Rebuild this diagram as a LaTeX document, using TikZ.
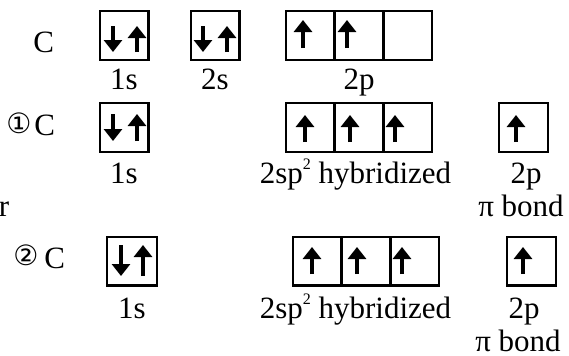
\documentclass[tikz,border=0pt]{standalone}
\usepackage{fontspec}
\setmainfont{Liberation Serif}
\newfontfamily\circfont{DejaVu Sans}
\usetikzlibrary{arrows.meta}

\begin{document}
\begin{tikzpicture}[x=0.5pt, y=-0.5pt,
    % Orbital box (one cell)
    orb box/.style={draw, line width=1.2pt, minimum width=24.3pt, minimum height=24.3pt, inner sep=0pt},
    % Heavy electron arrow
    spin/.style={line width=2pt, -{Triangle[width=9pt, length=6pt]}},
    % Labels under the boxes
    orb label/.style={font=\fontsize{15.5}{17}\selectfont, anchor=base, inner sep=0pt},
    % Atom names on the left
    atom label/.style={font=\fontsize{15.5}{17}\selectfont, anchor=base west, inner sep=0pt},
    circ label/.style={font=\circfont\fontsize{14}{15}\selectfont, anchor=base west, inner sep=0pt}
  ]
  \useasboundingbox (0,0) rectangle (569,355);

  % --- Row 1: ground state ---
  \node[atom label] (c0) at (33,52) {C};
  \node[orb box] (g1s) at (124,35.5) {};
  \node[orb box] (g2s) at (215,35.5) {};
  \node[orb box] (g2pa) at (310.3,35.5) {};
  \node[orb box] (g2pb) at (359,35.5) {};
  \node[orb box] (g2pc) at (407.7,35.5) {};
  \draw[spin] (113,26) -- (113,52);
  \draw[spin] (137,52) -- (137,26);
  \draw[spin] (203,26) -- (203,52);
  \draw[spin] (227,52) -- (227,26);
  \draw[spin] (303,48) -- (303,20);
  \draw[spin] (347,48) -- (347,20);
  \node[orb label] (l1s) at (124,89) {1s};
  \node[orb label] (l2s) at (215,89) {2s};
  \node[orb label] (l2p) at (359,89) {2p};

  % --- Row 2: first carbon ---
  \node[circ label] (n1) at (6,133) {①};
  \node[atom label] (c1) at (34,135) {C};
  \node[orb box] (a1s) at (124,127.5) {};
  \node[orb box] (ahya) at (310.3,127.5) {};
  \node[orb box] (ahyb) at (359,127.5) {};
  \node[orb box] (ahyc) at (407.7,127.5) {};
  \node[orb box] (a2p) at (523.5,127.5) {};
  \draw[spin] (113,114) -- (113,141);
  \draw[spin] (137,141) -- (137,114);
  \draw[spin] (305,142) -- (305,115);
  \draw[spin] (350,142) -- (350,115);
  \draw[spin] (395,142) -- (395,115);
  \draw[spin] (516,142) -- (516,115);
  \node[orb label] (m1s) at (124,183) {1s};
  \node[orb label] (mhy) at (355.5,183) {2sp\raisebox{7pt}{\fontsize{8}{8}\selectfont 2} hybridized};
  \node[orb label] (m2p) at (526,183) {2p};
  \node[orb label] (mpi) at (521,216) {π bond};
  \node[atom label] (orr) at (-1.5,216) {r};

  % --- Row 3: second carbon ---
  \node[circ label] (n2) at (13,265) {②};
  \node[atom label] (c2) at (44,268) {C};
  \node[orb box, minimum width=25pt] (b1s) at (132,261) {};
  \node[orb box] (bhya) at (317.3,261) {};
  \node[orb box] (bhyb) at (366,261) {};
  \node[orb box] (bhyc) at (414.7,261) {};
  \node[orb box] (b2p) at (531.5,261) {};
  \draw[spin] (121,245) -- (121,276);
  \draw[spin] (143,276) -- (143,245);
  \draw[spin] (312,274) -- (312,247);
  \draw[spin] (357,274) -- (357,247);
  \draw[spin] (402,274) -- (402,247);
  \draw[spin] (523,274) -- (523,247);
  \node[orb label] (k1s) at (132,318) {1s};
  \node[orb label] (khy) at (355.5,318) {2sp\raisebox{7pt}{\fontsize{8}{8}\selectfont 2} hybridized};
  \node[orb label] (k2p) at (524,318) {2p};
  \node[orb label] (kpi) at (518,351) {π bond};

\end{tikzpicture}
\end{document}
